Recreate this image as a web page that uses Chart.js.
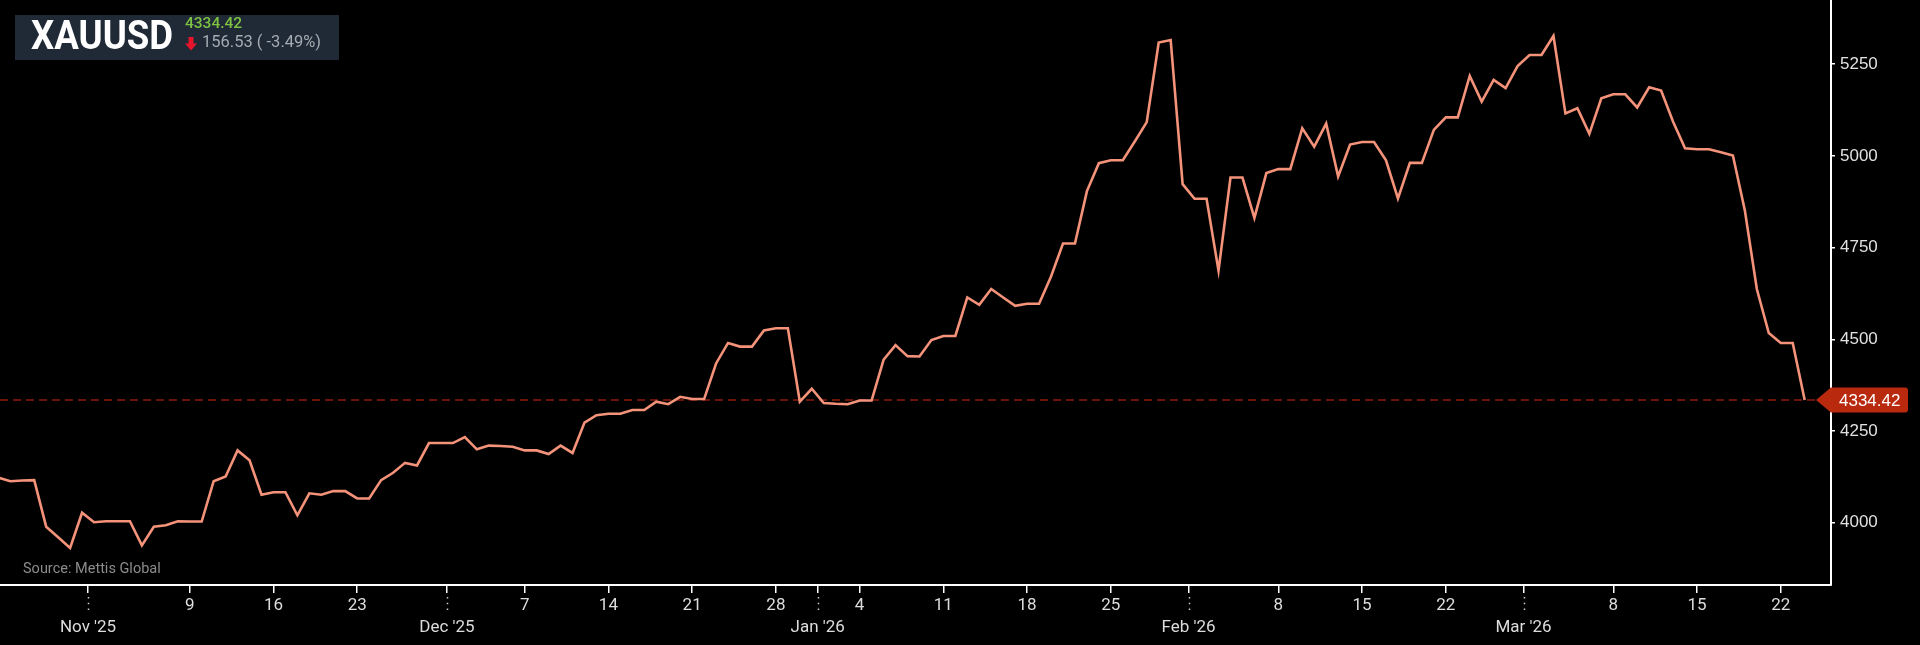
<!DOCTYPE html>
<html>
<head>
<meta charset="utf-8">
<title>XAUUSD</title>
<script src="https://cdn.jsdelivr.net/npm/chart.js@4.4.1/dist/chart.umd.min.js"></script>
<style>
    html, body {
        margin: 0;
        padding: 0;
        background: #000;
        overflow: hidden;
    }
    #wrap {
        position: relative;
        width: 1920px;
        height: 645px;
    }
    #badge {
        position: absolute;
        left: 15px;
        top: 15px;
        width: 324px;
        height: 45px;
        background: #1f2a36;
    }
    .txt {
        position: absolute;
        white-space: nowrap;
        line-height: 1;
        font-family: Roboto, "Noto Sans", sans-serif;
    }
    #symbol {
        left: 31px;
        top: 15.6px;
        font-size: 40px;
        font-weight: 700;
        color: #fff;
        transform: scaleX(0.915);
        transform-origin: left top;
    }
    #last {
        left: 185px;
        top: 16.3px;
        font-size: 15.5px;
        font-weight: 500;
        color: #7dc242;
    }
    #arrow {
        position: absolute;
        left: 185px;
        top: 37px;
    }
    #change {
        left: 202px;
        top: 33.8px;
        font-size: 16.5px;
        color: #a5abb2;
    }
    #source {
        left: 23px;
        top: 561.8px;
        font-size: 14.5px;
        color: #8c8c8c;
    }
</style>
</head>
<body>
<div id="wrap">
    <canvas id="chart"></canvas>
    <div id="badge"></div>
    <div class="txt" id="symbol">XAUUSD</div>
    <div class="txt" id="last">4334.42</div>
    <svg id="arrow" width="12" height="14" viewBox="0 0 12 14">
        <path d="M3.5 0 H8.5 V6.5 H12 L6 13.5 L0 6.5 H3.5 Z" fill="#e8142c"/>
    </svg>
    <div class="txt" id="change">156.53 ( -3.49%)</div>
    <div class="txt" id="source">Source: Mettis Global</div>
</div>

<script>
// Daily closes, first value is Oct 24 2025 (day -8, day 0 = Nov 1 2025)
const firstDay = -8;
const prices = [
    4123, 4113, 4115, 4116, 3989, 3960, 3931, 4027,
    4001, 4004, 4004, 4004, 3938, 3989, 3993, 4004,
    4003, 4003, 4113, 4126, 4197, 4170, 4076, 4083,
    4083, 4020, 4080, 4076, 4086, 4086, 4066, 4066,
    4116, 4136, 4163, 4156, 4217, 4217, 4217, 4233,
    4200, 4210, 4209, 4207, 4197, 4197, 4187, 4210,
    4190, 4273, 4293, 4297, 4297, 4307, 4307, 4330,
    4323, 4343, 4337, 4337, 4434, 4490, 4480, 4480,
    4524, 4530, 4530, 4330, 4365, 4326, 4324, 4323,
    4333, 4333, 4444, 4484, 4454, 4453, 4498, 4509,
    4509, 4614, 4594, 4637, 4614, 4591, 4597, 4597,
    4671, 4761, 4761, 4904, 4980, 4988, 4988, 5039,
    5092, 5309, 5316, 4923, 4883, 4883, 4687, 4941,
    4941, 4831, 4953, 4964, 4964, 5075, 5025, 5088,
    4944, 5031, 5038, 5038, 4988, 4884, 4981, 4981,
    5071, 5105, 5105, 5218, 5148, 5207, 5185, 5245,
    5275, 5275, 5327, 5116, 5130, 5060, 5157, 5168,
    5168, 5132, 5187, 5178, 5093, 5021, 5018, 5018,
    5010, 5001, 4851, 4637, 4517, 4490, 4490, 4334.42
];
const lastPrice = 4334.42;

// x ticks (days from Nov 1 2025)
const weekTicks = [8, 15, 22, 36, 43, 50, 57, 64, 71, 78, 85, 99, 106, 113, 127, 134, 141];
const weekLabels = ['9', '16', '23', '7', '14', '21', '28', '4', '11', '18', '25', '8', '15', '22', '8', '15', '22'];
const monthTicks = [-0.5, 29.5, 60.5, 91.5, 119.5];
const monthLabels = ["Nov '25", "Dec '25", "Jan '26", "Feb '26", "Mar '26"];

// y ticks
const yTicks = [4000, 4250, 4500, 4750, 5000, 5250];

const colors = {
    line: '#f4937a',
    axis: '#ffffff',
    tickText: '#dddddd',
    priceLine: '#8e1d0b',
    tag: '#b9290e'
};

const points = prices.map((p, i) => ({ x: firstDay + i, y: p }));

// chart.js pads for half a tick label at the ends, the reference runs to the edges
function noEdgePadding(scale) {
    scale.paddingTop = 0;
    scale.paddingBottom = 0;
    scale.paddingLeft = 0;
    scale.paddingRight = 0;
}

// dashed last-price line, price tag and month dividers
const overlays = {
    id: 'overlays',
    beforeDatasetsDraw(chart) {
        const { ctx, chartArea, scales } = chart;
        const y = scales.y.getPixelForValue(lastPrice);
        ctx.save();
        ctx.strokeStyle = colors.priceLine;
        ctx.lineWidth = 1.5;
        ctx.setLineDash([8, 5]);
        ctx.beginPath();
        ctx.moveTo(chartArea.left, y);
        ctx.lineTo(chartArea.right, y);
        ctx.stroke();
        ctx.restore();
    },
    afterDraw(chart) {
        const { ctx, chartArea, scales } = chart;
        const xs = scales.x;
        ctx.save();

        // dotted month markers under the axis
        ctx.strokeStyle = '#cccccc';
        ctx.lineWidth = 1.5;
        ctx.setLineDash([1.5, 4.2]);
        monthTicks.forEach(v => {
            const px = Math.round(xs.getPixelForValue(v)) + 0.5;
            ctx.beginPath();
            ctx.moveTo(px, xs.top + 12);
            ctx.lineTo(px, xs.top + 28);
            ctx.stroke();
        });
        ctx.setLineDash([]);

        // price tag
        const y = scales.y.getPixelForValue(lastPrice);
        const left = chartArea.right;
        const h = 25, w = 77, r = 3;
        ctx.fillStyle = colors.tag;
        ctx.beginPath();
        ctx.moveTo(left - 15, y);
        ctx.lineTo(left, y - h / 2);
        ctx.lineTo(left + w - r, y - h / 2);
        ctx.quadraticCurveTo(left + w, y - h / 2, left + w, y - h / 2 + r);
        ctx.lineTo(left + w, y + h / 2 - r);
        ctx.quadraticCurveTo(left + w, y + h / 2, left + w - r, y + h / 2);
        ctx.lineTo(left, y + h / 2);
        ctx.closePath();
        ctx.fill();

        ctx.fillStyle = '#ffffff';
        ctx.font = '17px "Liberation Sans", Arial, sans-serif';
        ctx.textBaseline = 'middle';
        ctx.textAlign = 'left';
        ctx.fillText(lastPrice.toFixed(2), left + 8, y + 1);
        ctx.restore();
    }
};

new Chart(document.getElementById('chart'), {
    type: 'line',
    data: {
        datasets: [{
            data: points,
            borderColor: colors.line,
            borderWidth: 2.6,
            pointRadius: 0,
            tension: 0,
            fill: false
        }]
    },
    options: {
        responsive: true,
        maintainAspectRatio: false,
        animation: false,
        events: [],
        layout: { padding: 0, autoPadding: false },
        plugins: {
            legend: { display: false },
            tooltip: { enabled: false }
        },
        scales: {
            x: {
                type: 'linear',
                position: 'bottom',
                min: -7.86,
                max: 145.2,
                afterBuildTicks: (scale) => {
                    scale.ticks = monthTicks.concat(weekTicks)
                        .sort((a, b) => a - b)
                        .map(v => ({ value: v }));
                },
                afterFit: (scale) => {
                    scale.height = 60;
                    noEdgePadding(scale);
                },
                grid: {
                    drawOnChartArea: false,
                    drawTicks: true,
                    tickLength: 8,
                    color: colors.axis,
                    lineWidth: 1.5
                },
                border: { display: true, color: colors.axis, width: 2 },
                ticks: {
                    autoSkip: false,
                    maxRotation: 0,
                    padding: 2,
                    color: colors.tickText,
                    font: { family: 'Roboto', size: 17, lineHeight: 1.3 },
                    callback: (value) => {
                        const m = monthTicks.indexOf(value);
                        if (m >= 0) return ['', monthLabels[m]];
                        const w = weekTicks.indexOf(value);
                        return w >= 0 ? weekLabels[w] : '';
                    }
                }
            },
            y: {
                position: 'right',
                min: 3830,
                max: 5425,
                afterBuildTicks: (scale) => {
                    scale.ticks = yTicks.map(v => ({ value: v }));
                },
                afterFit: (scale) => {
                    scale.width = 89;
                    noEdgePadding(scale);
                },
                grid: {
                    drawOnChartArea: false,
                    drawTicks: true,
                    tickLength: 4,
                    color: colors.axis,
                    lineWidth: 1.5
                },
                border: { display: true, color: colors.axis, width: 2 },
                ticks: {
                    padding: 5,
                    color: '#e0e0e0',
                    font: { family: '"Liberation Sans", Arial, sans-serif', size: 17 },
                    callback: (value) => String(value)
                }
            }
        }
    },
    plugins: [overlays]
});
</script>
</body>
</html>
